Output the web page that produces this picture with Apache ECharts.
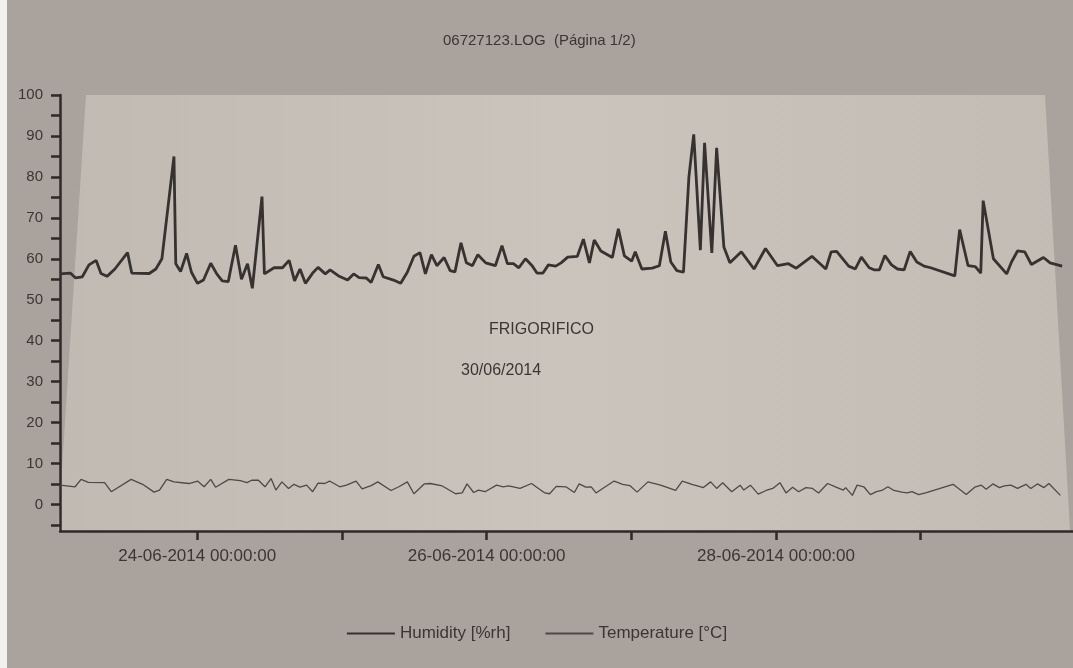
<!DOCTYPE html>
<html><head><meta charset="utf-8">
<script src="https://cdn.jsdelivr.net/npm/echarts@6/dist/echarts.min.js"></script>
<style>html,body{margin:0;padding:0;background:#aaa39d}#c{width:1073px;height:668px}</style>
</head><body><div id="c"></div>
<script>
// Humidity readings: hours since start of log, value in %rh
const humHours = [0,1.7,2.6,3.7,4.8,6.0,6.8,7.8,9.1,11.2,11.9,14.8,15.9,16.9,18.9,19.2,20.0,21.0,21.8,22.8,23.8,25.0,26.0,26.9,27.9,29.1,30.1,31.1,31.9,33.5,33.9,35.5,36.9,38.0,38.9,39.8,40.7,41.9,42.8,44.0,44.8,46.2,47.7,48.7,49.6,50.8,51.6,52.8,
53.6,55.3,56.5,57.6,58.7,59.7,60.6,61.6,62.5,63.7,64.7,65.5,66.5,67.4,68.4,69.3,70.6,72.2,73.3,74.2,75.2,76.1,77.2,78.3,79.1,80.1,81.0,82.2,83.1,84.2,85.8,86.8,87.8,88.6,89.7,91.6,92.6,93.6,94.8,95.4,96.5,98.2,99.4,100.4,101.3,102.3,103.4,104.3,105.1,106.2,106.9,108.1,108.9,
110.1,111.1,113.0,115.1,117.0,119.0,120.8,122.1,124.7,127.0,127.9,128.8,130.8,131.9,132.9,134.2,135.0,135.9,136.8,137.9,138.9,140.0,141.0,142.1,143.3,144.4,148.4,149.2,150.6,151.8,152.7,153.1,154.8,157.0,157.8,158.8,160.0,161.1,163.1,164.2,166.2];
const humValues = [56.3,56.5,55.3,55.6,58.5,59.6,56.4,55.7,57.5,61.5,56.5,56.4,57.5,60,85,58.8,56.9,61.3,56.7,54,54.8,58.9,56.3,54.6,54.4,63.3,55,58.8,52.8,75.2,56.3,57.8,57.8,59.6,54.6,57.5,54,56.5,57.9,56.3,57.3,55.8,54.8,56.3,55.4,55.3,54.2,58.6,
55.6,54.8,54,56.7,60.6,61.5,56.3,61,58.3,60.3,57.1,56.8,63.9,59,58.3,61,59,58.3,63.2,58.8,58.8,57.8,60,58.3,56.5,56.5,58.5,58.2,59,60.4,60.6,64.8,59,64.6,61.9,60.3,67.3,60.7,59.4,61.7,57.5,57.7,58.3,66.7,59.2,57.1,56.7,80,90.4,62.1,88.3,61.4,87.1,
62.9,59,61.7,57.5,62.5,58.3,58.8,57.7,60.6,57.5,61.7,61.8,58.2,57.5,60.4,57.8,57.3,57.3,60.8,58.5,57.5,57.3,61.8,59.2,58.2,57.8,55.8,67.1,58.3,58.1,56.5,74.2,60,56.3,59.2,61.9,61.7,58.6,60.3,59,58.2];
// Temperature readings: hours since start of log, value in °C
const tempHours = [0,2.5,3.5,4.7,7.4,8.5,11.8,13.7,15.6,16.5,17.7,18.9,21.4,22.8,23.9,25.0,25.8,28.0,29.9,31.0,31.8,32.9,34.0,35.0,35.8,36.8,37.9,38.8,39.8,40.9,41.9,42.8,43.9,44.7,46.4,47.5,49.1,50.1,51.6,52.7,54.9,56.2,57.6,58.7,60.4,61.4,63.4,65.6,66.7,67.5,68.6,69.4,70.5,72.4,73.5,74.4,76.3,78.2,80.4,81.2,82.3,
83.9,85.3,86.1,87.2,88.1,88.9,90.0,91.9,93.3,94.5,95.7,97.5,99.6,102.1,103.2,104.8,106.7,107.9,108.9,109.9,111.4,112.8,113.4,114.5,115.8,117.1,118.2,119.4,120.4,121.5,122.5,123.7,124.8,125.8,127.3,128.7,129.9,130.3,131.4,132.2,133.3,134.4,135.4,136.3,137.3,138.3,139.6,140.5,141.3,142.4,143.7,148.1,150.3,151.7,152.8,153.6,154.7,155.8,156.6,157.7,158.8,160.2,161.0,162.1,163.2,164.0,165.9];
const tempValues = [4.7,4.3,6.1,5.4,5.3,3.1,6.1,4.9,3.0,3.5,6.1,5.5,5.1,5.7,4.3,6.1,4.2,6.1,5.8,5.3,5.9,5.9,4.3,6.3,3.5,5.5,3.9,4.9,4.2,4.7,3.1,5.2,5.1,5.7,4.3,4.7,5.7,3.8,4.6,5.5,3.4,4.3,5.5,2.6,5.0,5.1,4.5,2.6,2.8,5.0,2.9,3.5,3.1,4.7,4.3,4.5,3.9,5.1,2.8,2.6,4.4,
4.3,2.9,5.0,4.2,4.3,2.8,3.9,5.7,4.9,4.6,3.0,5.5,4.7,3.4,5.7,4.9,4.1,5.5,3.9,5.3,3.1,4.7,3.5,4.7,2.5,3.4,3.9,5.3,2.8,4.2,3.1,4.1,3.9,2.8,5.1,4.2,3.5,4.1,2.2,4.7,4.3,2.4,3.1,3.4,4.3,3.4,3.0,2.8,3.1,2.4,2.9,4.9,2.4,4.2,4.7,3.7,5.0,4.1,4.5,4.7,3.9,4.9,3.9,5.0,4.1,5.1,2.2];
const yTickValues = [-5,0,5,10,15,20,25,30,35,40,45,50,55,60,65,70,75,80,85,90,95,100];
const yLabelValues = [0,10,20,30,40,50,60,70,80,90,100];
const xTickDays = [24,25,26,27,28,29];
const xLabelDays = [24,26,28];
const seriesNames = ['Humidity [%rh]','Temperature [°C]'];
const titleText = '06727123.LOG  (Página 1/2)';
const noteName = 'FRIGORIFICO';
const noteDate = '30/06/2014';

const H = 3600000;
const startMs = new Date(2014,5,23,1,15,0).getTime();
const endMs = startMs + 168*H;
const dayMs = d => new Date(2014,5,d,0,0,0).getTime();
const pad = n => (n<10?'0':'')+n;
const fmt = v => { const d=new Date(v); return pad(d.getDate())+'-'+pad(d.getMonth()+1)+'-'+d.getFullYear()+' '+pad(d.getHours())+':'+pad(d.getMinutes())+':'+pad(d.getSeconds()); };

const humData = humHours.map((h,i)=>[startMs+h*H, humValues[i]]);
const tempData = tempHours.map((h,i)=>[startMs+h*H, tempValues[i]]);

const ink = '#3a3633';
const font = 'Liberation Sans, Arial, sans-serif';
const chart = echarts.init(document.getElementById('c'), null, {renderer:'canvas'});
chart.setOption({
  backgroundColor: '#aaa39d',
  animation: false,
  textStyle: {fontFamily: font},
  graphic: [
    {type:'rect', z:-10, silent:true, shape:{x:0,y:0,width:7,height:668}, style:{fill:'#f2f1ef'}},
    {type:'polygon', z:-10, silent:true, shape:{points:[[86,95],[1045,95],[1070,531],[58,531]]},
      style:{fill:new echarts.graphic.LinearGradient(0,0,1,0,[{offset:0,color:'#c0bab3'},{offset:0.5,color:'#cac4bd'},{offset:1,color:'#c2bcb5'}])}},
    {type:'text', left:443, top:33, style:{text:titleText, fill:ink, font:'15px '+font}},
    {type:'text', left:489, top:322, style:{text:noteName, fill:ink, font:'16px '+font}},
    {type:'text', left:461, top:363, style:{text:noteDate, fill:ink, font:'16px '+font}}
  ],
  legend: {
    bottom: 21, left: 'center', itemWidth: 48, itemHeight: 14, itemGap: 34,
    itemStyle: {opacity: 0},
    textStyle: {color: ink, fontSize: 17, fontFamily: font},
    data: seriesNames
  },
  grid: {left: 60, right: 0, top: 95, bottom: 137, containLabel: false},
  xAxis: {
    type: 'value', min: startMs, max: endMs, scale: true,
    axisLine: {show:true, onZero:false, lineStyle:{color:'#2e2a28', width:2.5}},
    axisTick: {show:true, length:9, lineStyle:{color:'#2e2a28', width:2.5}, customValues: xTickDays.map(dayMs)},
    axisLabel: {show:true, margin:17, color:ink, fontSize:17, fontFamily:font, customValues: xLabelDays.map(dayMs), formatter: v=>fmt(v)},
    splitLine: {show:false}
  },
  yAxis: {
    type: 'value', min: -6.5, max: 100,
    axisLine: {show:true, onZero:false, lineStyle:{color:'#2e2a28', width:2.5}},
    axisTick: {show:true, length:9, lineStyle:{color:'#2e2a28', width:2.5}, customValues: yTickValues},
    axisLabel: {show:true, margin:17, color:ink, fontSize:15, fontFamily:font, customValues: yLabelValues},
    splitLine: {show:false}
  },
  series: [
    {name: seriesNames[0], type:'line', data: humData, symbol:'none', lineStyle:{color:'#363230', width:2.8}, itemStyle:{color:'#363230'}},
    {name: seriesNames[1], type:'line', data: tempData, symbol:'none', lineStyle:{color:'#4e4946', width:1.3}, itemStyle:{color:'#4e4946'}}
  ]
});
</script>
</body></html>
